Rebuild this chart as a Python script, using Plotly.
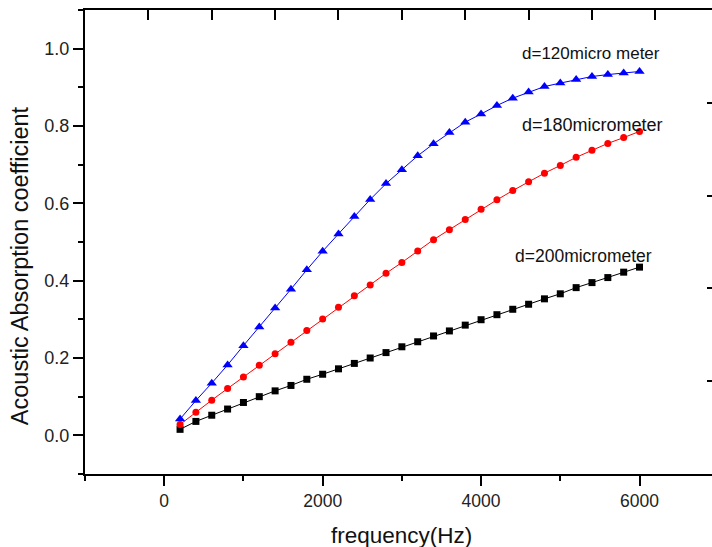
import plotly.graph_objects as go

freq = [200 * i for i in range(1, 31)]

d120 = [0.042, 0.090, 0.135, 0.182, 0.232, 0.280, 0.329, 0.378, 0.428, 0.476,
        0.521, 0.566, 0.610, 0.651, 0.687, 0.723, 0.754, 0.783, 0.810, 0.831,
        0.853, 0.872, 0.888, 0.902, 0.911, 0.920, 0.928, 0.933, 0.937, 0.941]
d180 = [0.028, 0.060, 0.091, 0.121, 0.151, 0.181, 0.211, 0.241, 0.271, 0.301,
        0.331, 0.361, 0.389, 0.419, 0.447, 0.477, 0.506, 0.532, 0.558, 0.585,
        0.609, 0.633, 0.656, 0.678, 0.698, 0.719, 0.737, 0.755, 0.770, 0.786]
d200 = [0.0155, 0.036, 0.052, 0.068, 0.085, 0.100, 0.115, 0.129, 0.145, 0.158,
        0.172, 0.186, 0.200, 0.214, 0.229, 0.242, 0.257, 0.270, 0.285, 0.299,
        0.312, 0.326, 0.339, 0.353, 0.366, 0.382, 0.395, 0.408, 0.422, 0.435]

labels = ["d=120micro meter", "d=180micrometer", "d=200micrometer"]
label_x = [5383, 5408, 5288]
label_y = [0.988, 0.802, 0.464]
label_size = [17, 18, 17.5]

FONT = "Liberation Sans, Arial, sans-serif"
XR = [-1000, 6915]
YR = [-0.1, 1.1]

fig = go.Figure()
fig.add_trace(go.Scatter(x=freq, y=d200, mode="lines+markers",
                         line=dict(color="black", width=1),
                         marker=dict(symbol="square", size=7, color="black")))
fig.add_trace(go.Scatter(x=freq, y=d180, mode="lines+markers",
                         line=dict(color="#ff0000", width=1),
                         marker=dict(symbol="circle", size=7, color="#ff0000")))
fig.add_trace(go.Scatter(x=freq, y=d120, mode="lines+markers",
                         line=dict(color="#0000ff", width=1),
                         marker=dict(symbol="triangle-up", size=9, color="#0000ff")))
# invisible trace to activate mirrored axes
fig.add_trace(go.Scatter(x=[freq[0]], y=[d200[0]], xaxis="x2", yaxis="y2",
                         mode="markers", marker=dict(opacity=0), hoverinfo="skip"))

for t, x, y, s in zip(labels, label_x, label_y, label_size):
    fig.add_annotation(x=x, y=y, xref="x", yref="y", text=t, showarrow=False,
                       xanchor="center", yanchor="middle",
                       font=dict(family=FONT, size=s, color="#111"))

fig.add_annotation(x=-0.1037, y=0.45, xref="paper", yref="paper",
                   text="Acoustic Absorption coefficient", textangle=-90,
                   showarrow=False, xanchor="center", yanchor="middle",
                   font=dict(family=FONT, size=23.5, color="#111"))
fig.add_annotation(x=0.505, y=-0.132, xref="paper", yref="paper",
                   text="frequency(Hz)", showarrow=False,
                   xanchor="center", yanchor="middle",
                   font=dict(family=FONT, size=22.5, color="#111"))

fig.update_layout(
    width=712, height=547,
    margin=dict(l=85, r=0, t=10, b=73),
    plot_bgcolor="white", paper_bgcolor="white",
    showlegend=False,
    font=dict(family=FONT, size=18, color="#222"),
    xaxis=dict(range=XR, tick0=0, dtick=2000, showgrid=False, zeroline=False,
               showline=True, linecolor="black", linewidth=2,
               ticks="outside", ticklen=10, tickwidth=2, tickcolor="black",
               minor=dict(dtick=1000, tick0=0, ticks="outside", ticklen=5,
                          tickwidth=2, tickcolor="black", showgrid=False),
               tickfont=dict(size=17.5)),
    yaxis=dict(range=YR, tick0=0, dtick=0.2, tickformat=".1f", showgrid=False,
               zeroline=False, showline=True, linecolor="black", linewidth=2,
               ticks="outside", ticklen=10, tickwidth=2, tickcolor="black",
               minor=dict(dtick=0.1, tick0=0, ticks="outside", ticklen=5,
                          tickwidth=2, tickcolor="black", showgrid=False),
               tickfont=dict(size=18)),
    xaxis2=dict(range=XR, overlaying="x", side="top", tick0=-1000, dtick=800,
                showgrid=False, zeroline=False, showline=True, linecolor="black",
                linewidth=2, ticks="inside", ticklen=10, tickwidth=2,
                tickcolor="black", showticklabels=False),
    yaxis2=dict(range=YR, overlaying="y", side="right", tick0=-0.1, dtick=0.24,
                showgrid=False, zeroline=False, showline=False,
                ticks="inside", ticklen=5, tickwidth=2, tickcolor="black",
                showticklabels=False),
)

fig.write_html("out.html")
